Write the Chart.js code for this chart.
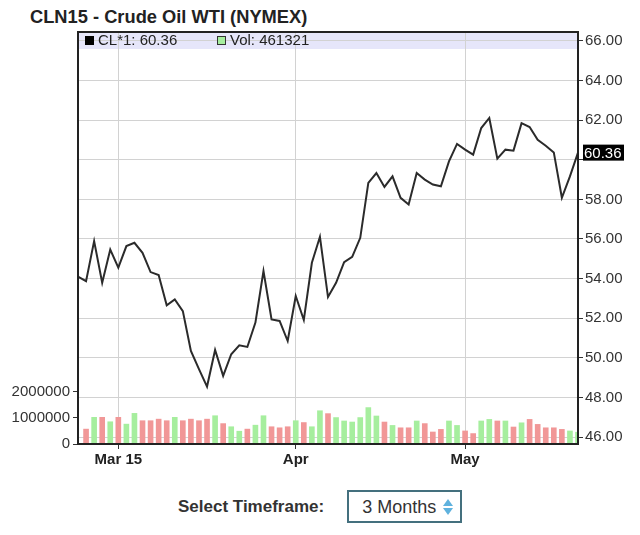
<!DOCTYPE html>
<html>
<head>
<meta charset="utf-8">
<title>CLN15 - Crude Oil WTI (NYMEX)</title>
<script src="https://cdn.jsdelivr.net/npm/chart.js@4.4.1/dist/chart.umd.min.js"></script>
<style>
  body { margin: 0; width: 640px; height: 535px; background: #fff; position: relative; overflow: hidden;
         font-family: "Liberation Sans", Arial, sans-serif; }
  #title { position: absolute; left: 30px; top: 6px; font-weight: bold; font-size: 18.3px; color: #222; }
  #wrap { position: absolute; left: 0; top: 0; width: 640px; height: 475px; }
  #tf { position: absolute; left: 178px; top: 490px; height: 33px; display: flex; align-items: center; }
  #tf .lbl { font-weight: bold; font-size: 17px; color: #333; margin-right: 23px; }
  #tf .box { position: relative; width: 115px; height: 33px; box-sizing: border-box; border: 2px solid #44707e;
             font-size: 18px; color: #333; padding: 5px 0 0 13px; }
  #tf .up, #tf .dn { position: absolute; right: 7px; width: 0; height: 0;
             border-left: 5px solid transparent; border-right: 5px solid transparent; }
  #tf .up { top: 7px; border-bottom: 7px solid #5fb2de; }
  #tf .dn { top: 16px; border-top: 7px solid #5fb2de; }
</style>
</head>
<body>
<div id="title">CLN15 - Crude Oil WTI (NYMEX)</div>
<div id="wrap"><canvas id="chart" width="640" height="475"></canvas></div>
<div id="tf"><span class="lbl">Select Timeframe:</span><span class="box">3 Months<i class="up"></i><i class="dn"></i></span></div>

<script>
// trading days shown (Feb 23 - May 21, 2015)
const dates = [
  '2015-02-23','2015-02-24','2015-02-25','2015-02-26','2015-02-27',
  '2015-03-02','2015-03-03','2015-03-04','2015-03-05','2015-03-06',
  '2015-03-09','2015-03-10','2015-03-11','2015-03-12','2015-03-13',
  '2015-03-16','2015-03-17','2015-03-18','2015-03-19','2015-03-20',
  '2015-03-23','2015-03-24','2015-03-25','2015-03-26','2015-03-27',
  '2015-03-30','2015-03-31',
  '2015-04-01','2015-04-02','2015-04-06','2015-04-07','2015-04-08',
  '2015-04-09','2015-04-10','2015-04-13','2015-04-14','2015-04-15',
  '2015-04-16','2015-04-17','2015-04-20','2015-04-21','2015-04-22',
  '2015-04-23','2015-04-24','2015-04-27','2015-04-28','2015-04-29','2015-04-30',
  '2015-05-01','2015-05-04','2015-05-05','2015-05-06','2015-05-07','2015-05-08',
  '2015-05-11','2015-05-12','2015-05-13','2015-05-14','2015-05-15',
  '2015-05-18','2015-05-19','2015-05-20','2015-05-21'
];

// CL*1 close
const closes = [
  54.10, 53.87, 55.89, 53.79, 55.47, 54.55, 55.64, 55.81, 55.30, 54.33,
  54.18, 52.65, 52.95, 52.36, 50.35, 49.43, 48.55, 50.40, 49.09, 50.18,
  50.63, 50.55, 51.78, 54.38, 51.94, 51.86, 50.85, 53.12, 51.91, 54.80,
  56.11, 53.07, 53.79, 54.83, 55.10, 56.06, 58.83, 59.33, 58.63, 59.16,
  58.08, 57.74, 59.33, 59.00, 58.75, 58.66, 59.92, 60.80, 60.51, 60.26,
  61.60, 62.11, 60.06, 60.51, 60.46, 61.85, 61.65, 61.01, 60.71, 60.37,
  58.08, 59.16, 60.36
];

// volume
const volumes = [
  null, 580000, 1030000, 1030000, 860000, 1030000, 770000, 1180000, 900000, 900000,
  960000, 900000, 1030000, 900000, 960000, 900000, 960000, 1090000, 790000, 670000,
  500000, 580000, 730000, 1090000, 670000, 630000, 670000, 900000, 830000, 670000,
  1280000, 1170000, 1020000, 890000, 850000, 1020000, 1400000, 1080000, 850000, 720000,
  630000, 630000, 890000, 790000, 470000, 570000, 890000, 720000, 510000, 410000,
  890000, 950000, 890000, 890000, 660000, 820000, 950000, 760000, 630000, 630000,
  570000, 510000, 461321
];

const priceTicks = [46, 48, 50, 52, 54, 56, 58, 60, 62, 64, 66];
const volumeTicks = [0, 1000000, 2000000];
const monthDates = ['2015-03-02', '2015-04-01', '2015-05-01'];
const monthLabels = ['Mar 15', 'Apr', 'May'];

const last = closes[closes.length - 1];
const upColor = '#a6ee9e';
const downColor = '#f19797';
const barColors = volumes.map((v, i) => (i > 0 && closes[i] >= closes[i - 1]) ? upColor : downColor);

Chart.defaults.font.family = '"Liberation Sans", Arial, sans-serif';

const frame = {
  id: 'frame',
  beforeDraw(chart) {
    const { ctx, chartArea: a } = chart;
    ctx.save();
    ctx.fillStyle = '#e6e6fa';
    ctx.fillRect(a.left, a.top, a.right - a.left, 17);
    ctx.restore();
  },
  afterDraw(chart) {
    const { ctx, chartArea: a } = chart;
    ctx.save();
    ctx.strokeStyle = '#222';
    ctx.lineWidth = 2;
    ctx.strokeRect(a.left, a.top, a.right - a.left, a.bottom - a.top);

    // legend in the band
    ctx.font = '15px "Liberation Sans", Arial, sans-serif';
    ctx.textBaseline = 'middle';
    ctx.fillStyle = '#000';
    ctx.fillRect(a.left + 7, a.top + 4, 9, 9);
    ctx.fillStyle = '#222';
    ctx.fillText('CL*1: ' + last.toFixed(2), a.left + 20, a.top + 9);
    ctx.fillStyle = upColor;
    ctx.fillRect(a.left + 139, a.top + 4, 9, 9);
    ctx.lineWidth = 1;
    ctx.strokeStyle = '#333';
    ctx.strokeRect(a.left + 139.5, a.top + 4.5, 8, 8);
    ctx.fillStyle = '#222';
    ctx.fillText('Vol: ' + volumes[volumes.length - 1], a.left + 152, a.top + 9);

    // last value marker
    const y = chart.scales.price.getPixelForValue(last);
    ctx.fillStyle = '#000';
    ctx.fillRect(a.right + 5, y - 8, 41, 16);
    ctx.fillStyle = '#fff';
    ctx.font = '15px "Liberation Sans", Arial, sans-serif';
    ctx.fillText(last.toFixed(2), a.right + 6, y + 1);
    ctx.restore();
  }
};

new Chart(document.getElementById('chart'), {
  data: {
    labels: dates,
    datasets: [
      {
        type: 'line',
        label: 'CL*1',
        data: closes,
        yAxisID: 'price',
        borderColor: '#2b2b2b',
        borderWidth: 2,
        pointRadius: 0,
        tension: 0,
        order: 0
      },
      {
        type: 'bar',
        label: 'Vol',
        data: volumes,
        yAxisID: 'vol',
        backgroundColor: barColors,
        barPercentage: 0.7,
        categoryPercentage: 1,
        order: 1
      }
    ]
  },
  options: {
    responsive: false,
    animation: false,
    layout: { padding: { top: 32, left: 0, right: 0, bottom: 0 } },
    plugins: { legend: { display: false }, tooltip: { enabled: false } },
    scales: {
      x: {
        type: 'category',
        offset: false,
        afterBuildTicks(scale) {
          scale.ticks = monthDates.map(d => ({ value: dates.indexOf(d) }));
        },
        ticks: {
          autoSkip: false,
          maxRotation: 0,
          padding: 2,
          color: '#222',
          font: { size: 15, weight: 'bold' },
          callback: v => monthLabels[monthDates.indexOf(dates[v])]
        },
        grid: { offset: false, color: '#d2d2d2', tickColor: '#333', tickLength: 5 },
        border: { color: '#222', width: 2 },
        afterFit(scale) { scale.height = 31; }
      },
      vol: {
        position: 'left',
        min: 0,
        max: 15700000,
        afterBuildTicks(scale) {
          scale.ticks = volumeTicks.map(v => ({ value: v }));
        },
        ticks: { padding: 3, color: '#333', font: { size: 15 }, callback: v => String(v) },
        grid: { drawOnChartArea: false, tickColor: '#333', tickLength: 5 },
        border: { color: '#222', width: 2 },
        afterFit(scale) { scale.width = 78; }
      },
      price: {
        position: 'right',
        min: 45.65,
        max: 66.45,
        afterBuildTicks(scale) {
          scale.ticks = priceTicks.map(v => ({ value: v }));
        },
        ticks: {
          padding: 2,
          color: '#333',
          font: { size: 15 },
          callback: v => Math.abs(v - last) < 0.6 ? '' : v.toFixed(2)
        },
        grid: { color: '#d2d2d2', tickColor: '#333', tickLength: 5 },
        border: { color: '#222', width: 2 },
        afterFit(scale) { scale.width = 62; }
      }
    }
  },
  plugins: [frame]
});
</script>
</body>
</html>
